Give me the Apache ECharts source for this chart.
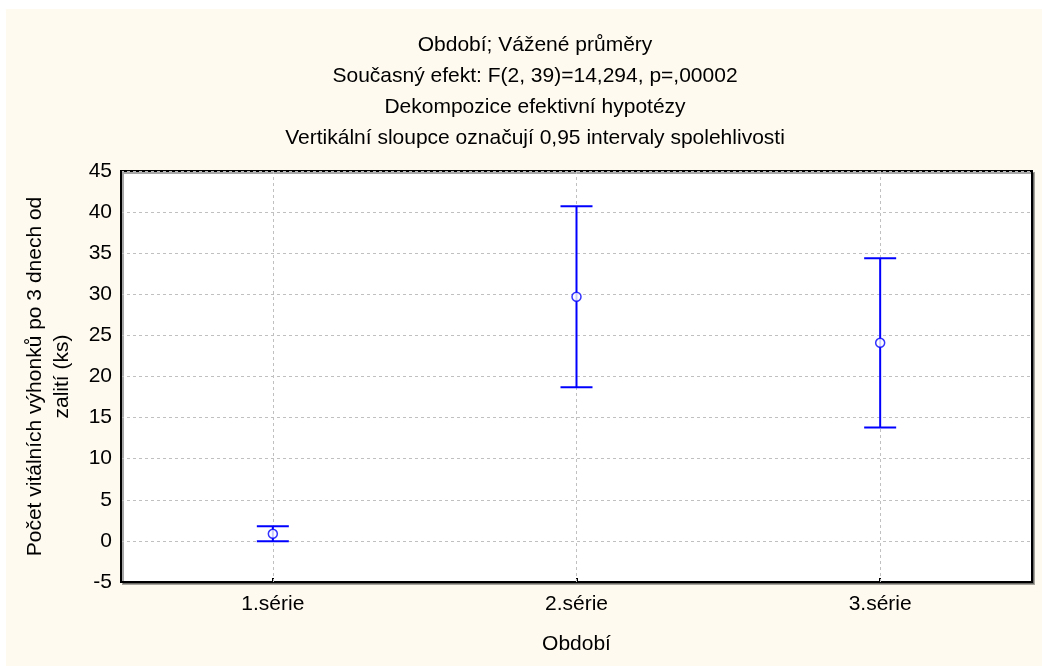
<!DOCTYPE html>
<html>
<head>
<meta charset="utf-8">
<script src="https://cdn.jsdelivr.net/npm/echarts@6/dist/echarts.min.js"></script>
<style>
  html, body { margin: 0; padding: 0; background: #ffffff; }
  #chart { width: 1042px; height: 666px; }
</style>
</head>
<body>
<div id="chart"></div>
<script>
// Weighted means per period with 0.95 confidence intervals
const categories = ['1.série', '2.série', '3.série'];
const means = [0.86, 29.7, 24.1];
const lowerCI = [-0.05, 18.7, 13.8];
const upperCI = [1.77, 40.7, 34.4];

const titleLines = [
  'Období; Vážené průměry',
  'Současný efekt: F(2, 39)=14,294, p=,00002',
  'Dekompozice efektivní hypotézy',
  'Vertikální sloupce označují 0,95 intervaly spolehlivosti'
];
const yAxisTitle = 'Počet vitálních výhonků po 3 dnech od\nzalití (ks)';
const xAxisTitle = 'Období';

const FONT = '"Liberation Sans", Arial, sans-serif';
const FS = 21;
const BLUE = '#0000ff';
const GRID_LINE = { color: '#c0c0c0', type: [3, 3], width: 1 };

const chart = echarts.init(document.getElementById('chart'), null, { renderer: 'canvas' });

const errorData = categories.map((c, i) => [i, lowerCI[i], upperCI[i]]);
const meanData = categories.map((c, i) => [i, means[i]]);

chart.setOption({
  backgroundColor: '#ffffff',
  animation: false,
  graphic: [{
    type: 'rect',
    z: -10,
    silent: true,
    shape: { x: 6, y: 9, width: 1036, height: 657 },
    style: { fill: '#fffaf0' }
  }],
  title: {
    text: titleLines.join('\n'),
    left: 530,
    top: 25,
    textAlign: 'center',
    textStyle: {
      fontFamily: FONT,
      fontSize: FS,
      fontWeight: 'normal',
      color: '#000000',
      lineHeight: 31
    }
  },
  grid: {
    left: 121,
    top: 171,
    width: 911,
    height: 411,
    show: true,
    backgroundColor: '#ffffff',
    borderColor: '#000000',
    borderWidth: 2,
    shadowColor: 'rgba(0,0,0,0.35)',
    shadowBlur: 0,
    shadowOffsetX: 2,
    shadowOffsetY: 2
  },
  xAxis: {
    type: 'category',
    data: categories,
    boundaryGap: true,
    name: xAxisTitle,
    nameLocation: 'middle',
    nameGap: 52,
    nameTextStyle: { fontFamily: FONT, fontSize: FS, color: '#000' },
    axisLine: { show: true, onZero: false, lineStyle: { color: '#000', width: 2 } },
    axisTick: { show: true, inside: true, alignWithLabel: true, length: 4, lineStyle: { color: '#000', width: 2 } },
    axisLabel: { fontFamily: FONT, fontSize: FS, color: '#000', margin: 12 },
    splitLine: { show: false }
  },
  yAxis: {
    type: 'value',
    min: -5,
    max: 45,
    interval: 5,
    name: yAxisTitle,
    nameLocation: 'middle',
    nameRotate: 90,
    nameGap: 45,
    nameTextStyle: { fontFamily: FONT, fontSize: FS, color: '#000', lineHeight: 27, align: 'center' },
    axisLine: { show: true, lineStyle: { color: '#000', width: 2 } },
    axisTick: { show: false },
    axisLabel: { fontFamily: FONT, fontSize: FS, color: '#000', margin: 9 },
    splitLine: { show: true, lineStyle: GRID_LINE }
  },
  series: [
    {
      name: 'CI',
      type: 'custom',
      data: errorData,
      z: 3,
      renderItem: function (params, api) {
        const x = api.value(0);
        const lo = api.coord([x, api.value(1)]);
        const hi = api.coord([x, api.value(2)]);
        const half = 16;
        const style = { stroke: BLUE, lineWidth: 2, fill: null };
        return {
          type: 'group',
          children: [
            { type: 'line', shape: { x1: lo[0], y1: lo[1], x2: hi[0], y2: hi[1] }, style: style },
            { type: 'line', shape: { x1: hi[0] - half, y1: hi[1], x2: hi[0] + half, y2: hi[1] }, style: style },
            { type: 'line', shape: { x1: lo[0] - half, y1: lo[1], x2: lo[0] + half, y2: lo[1] }, style: style }
          ]
        };
      }
    },
    {
      name: 'Průměr',
      type: 'scatter',
      data: meanData,
      z: 4,
      symbol: 'circle',
      symbolSize: 9,
      itemStyle: { color: '#ffffff', borderColor: BLUE, borderWidth: 1.5 },
      // vertical dashed grid lines through each category centre
      markLine: {
        silent: true,
        symbol: ['none', 'none'],
        label: { show: false },
        z: 1,
        lineStyle: GRID_LINE,
        data: categories.map(c => ({ xAxis: c }))
      }
    }
  ]
});
</script>
</body>
</html>
